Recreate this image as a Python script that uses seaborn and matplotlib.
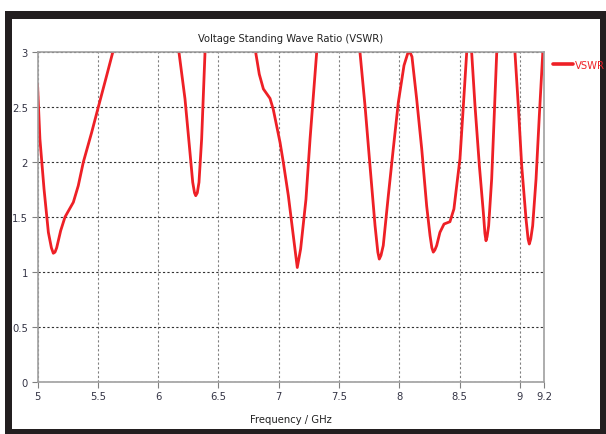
import matplotlib
matplotlib.use("Agg")
import matplotlib.pyplot as plt
from matplotlib.patches import Rectangle
import numpy as np
import pandas as pd
import seaborn as sns

# Simulated VSWR sweep of the antenna (values above 3 run off the top of the axes)
freq_ghz = [
    5.000, 5.020, 5.054, 5.090, 5.115, 5.131, 5.145, 5.159, 5.192, 5.228,
    5.297, 5.338, 5.380, 5.449, 5.504, 5.574, 5.624, 5.700, 5.900, 6.100,
    6.173, 6.223, 6.259, 6.287, 6.302, 6.312, 6.325, 6.339, 6.361, 6.389,
    6.450, 6.600, 6.750, 6.809, 6.839, 6.873, 6.928, 6.955, 7.011, 7.038,
    7.080, 7.121, 7.154, 7.182, 7.226, 7.260, 7.315, 7.400, 7.550, 7.674,
    7.716, 7.757, 7.799, 7.822, 7.834, 7.848, 7.867, 7.909, 7.950, 7.992,
    8.039, 8.070, 8.089, 8.105, 8.144, 8.186, 8.227, 8.255, 8.270, 8.282,
    8.295, 8.310, 8.337, 8.371, 8.420, 8.453, 8.476, 8.503, 8.531, 8.559,
    8.578, 8.600, 8.628, 8.664, 8.697, 8.710, 8.719, 8.728, 8.741, 8.766,
    8.785, 8.808, 8.850, 8.920, 8.959, 8.987, 9.015, 9.051, 9.068, 9.078,
    9.090, 9.106, 9.134, 9.161, 9.190, 9.200,
]
vswr = [
    2.71, 2.21, 1.755, 1.36, 1.22, 1.17, 1.18, 1.22, 1.375, 1.50,
    1.634, 1.785, 2.00, 2.27, 2.50, 2.79, 3.00, 3.40, 3.90, 3.40,
    3.00, 2.575, 2.15, 1.816, 1.72, 1.694, 1.72, 1.816, 2.21, 3.00,
    3.60, 3.90, 3.50, 3.00, 2.80, 2.666, 2.58, 2.48, 2.18, 2.00,
    1.694, 1.33, 1.04, 1.21, 1.66, 2.21, 3.00, 3.70, 3.80, 3.00,
    2.51, 1.967, 1.42, 1.18, 1.117, 1.15, 1.24, 1.694, 2.12, 2.545,
    2.88, 2.99, 3.00, 2.96, 2.575, 2.12, 1.60, 1.33, 1.22, 1.18,
    1.20, 1.24, 1.36, 1.436, 1.457, 1.573, 1.785, 2.03, 2.51, 3.00,
    3.03, 3.00, 2.51, 1.967, 1.54, 1.35, 1.284, 1.32, 1.42, 1.846,
    2.36, 3.00, 3.50, 3.50, 3.00, 2.51, 1.967, 1.48, 1.30, 1.254,
    1.30, 1.42, 1.846, 2.42, 3.00, 3.20,
]
series_name = "VSWR"

x_ticks = [5, 5.5, 6, 6.5, 7, 7.5, 8, 8.5, 9, 9.2]
x_tick_labels = ["5", "5.5", "6", "6.5", "7", "7.5", "8", "8.5", "9", "9.2"]
y_ticks = [0, 0.5, 1, 1.5, 2, 2.5, 3]
y_tick_labels = ["0", "0.5", "1", "1.5", "2", "2.5", "3"]

df = pd.DataFrame({"Frequency": freq_ghz, "VSWR": vswr, "Series": series_name})

sns.set_style("white")
plt.rcParams["font.family"] = ["DejaVu Sans"]
plt.rcParams["font.stretch"] = "condensed"

fig = plt.figure(figsize=(6.06, 4.35), dpi=100)
fig.patch.set_facecolor("white")

# dark frame around the chart panel, kept beneath the axes
fig.patches.append(Rectangle((0.0083, 0.0), 0.9917, 0.9724, transform=fig.transFigure,
                             facecolor="#231f20", edgecolor="none", zorder=-20))
fig.patches.append(Rectangle((0.0206, 0.0126), 0.9703, 0.9414, transform=fig.transFigure,
                             facecolor="white", edgecolor="none", zorder=-19))

ax = fig.add_axes([0.0619, 0.1202, 0.8358, 0.7573])
ax.set_facecolor("none")
ax.set_zorder(1)

sns.lineplot(data=df, x="Frequency", y="VSWR", hue="Series", palette=["#ee2026"],
             linewidth=2.0, ax=ax, sort=False, legend=True)

ax.set_xlim(5, 9.2)
ax.set_ylim(0, 3)
ax.set_xticks(x_ticks)
ax.set_xticklabels(x_tick_labels)
ax.set_yticks(y_ticks)
ax.set_yticklabels(y_tick_labels)

# vertical grid lighter than the horizontal one
ax.xaxis.grid(True, color="#808080", linestyle=(0, (2, 2)), linewidth=0.8)
ax.yaxis.grid(True, color="#333333", linestyle=(0, (2, 2)), linewidth=0.8)
for s in ax.spines.values():
    s.set_color("#a0a0a0")
    s.set_linewidth(1.2)
ax.tick_params(axis="both", which="both", direction="out", length=4, width=0.8,
               color="#808080", labelsize=8, labelcolor="#333344", pad=3,
               bottom=True, left=True)

ax.set_xlabel("Frequency / GHz", fontsize=8, color="#222222", labelpad=9)
ax.set_ylabel("")
ax.set_title("Voltage Standing Wave Ratio (VSWR)", fontsize=8, color="#222222", pad=8)

leg = ax.legend(loc="upper left", bbox_to_anchor=(1.008, 0.99), frameon=False,
                fontsize=8, handlelength=1.8, handletextpad=0.2, borderaxespad=0)
for t in leg.get_texts():
    t.set_color("#ee2026")
for h in leg.legend_handles:
    h.set_linewidth(2.6)

fig.savefig("out.png", dpi=100)
